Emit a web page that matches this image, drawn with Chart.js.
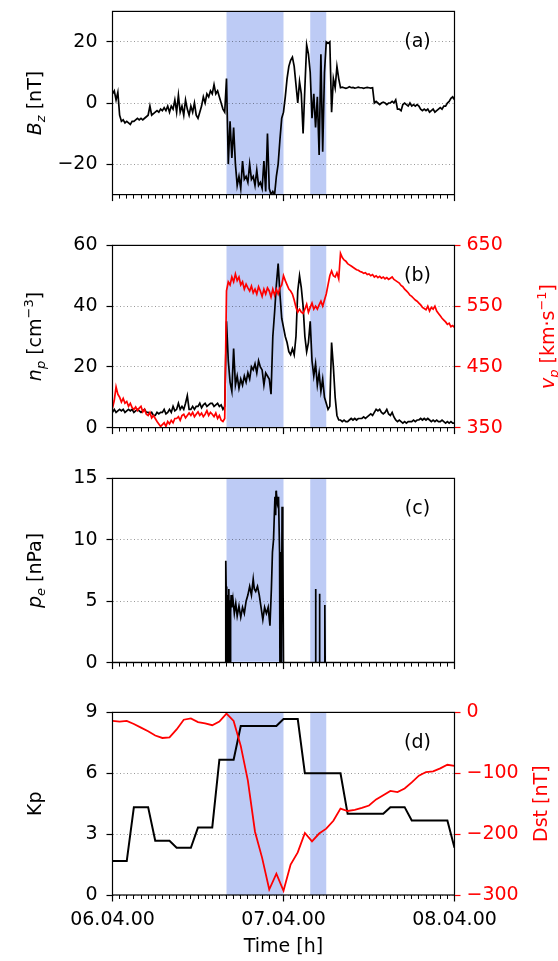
<!DOCTYPE html>
<html>
<head>
<meta charset="utf-8">
<title>Bz, np/vp, pe, Kp/Dst</title>
<script src="https://cdn.jsdelivr.net/npm/chart.js@4.4.1/dist/chart.umd.min.js"></script>
<style>
  body { margin: 0; background: #fff; width: 558px; height: 961px; position: relative; overflow: hidden; }
  canvas { position: absolute; left: 0; }
</style>
</head>
<body>
<canvas id="chartA" width="558" height="224" style="top:-9px"></canvas>
<canvas id="chartB" width="558" height="223" style="top:225px"></canvas>
<canvas id="chartC" width="558" height="225" style="top:458px"></canvas>
<canvas id="chartD" width="558" height="269" style="top:692px"></canvas>
<script>
// time axis (hours from 06.04 00:00)
const timeTicks = [0, 24, 48];
const timeTickLabels = ["06.04.00", "07.04.00", "08.04.00"];
const shadeStart = [16, 27.75];
const shadeEnd = [24, 30];

// Bz, np, vp sampled every 15 min
const sampleStep = 0.25;
const bzValues = [
  3, 4, 1, 3.5,  -4, -6, -5.5, -6.5,  -6, -6.5, -7, -6,  -6, -5.5, -5, -5.5,
  -5, -5.5, -5, -4.5,  -4, -1, -4, -3.5,  -3, -2.5, -3, -2,  -2.5, -1.5, -2.5, -1,
  -3, -1, -2, 1,  -3, 2.5, -3, -1,  -4, 1, -2, -4,  -1, -3, 0, -4,
  -5, -3, -1, 2,  0, 3, 2, 4,  3, 6, 3, 4,  2, 0, -2, -3,
  8, -20, -6, -18,  -8, -20, -27, -24,  -28, -19, -25, -24,  -26, -20, -25, -24,
  -27, -22, -27, -26,  -28, -19, -29, -10,  -28, -30, -29, -30,  -24, -20, -12, -5,
  -3, 2, 8, 12,  14, 15, 12, 6,  0, 7, 3, -10,  5, 19, 16, 10,
  -5, 3, -8, 2,  -17, 16, -16, 10,  20, 19.5, 20, -3,  8, 5, 12, 8,
  5, 5.2, 5, 4.8,  5, 5.3, 5, 5.1,  4.9, 5, 5.2, 5,  5, 4.8, 5, 5.1,
  5, 4.9, 5, 0,  0.5, 0, -0.5, 0,  0.3, 0, -0.5, 0,  0, 0.5, 0, 1,
  -2, -2, -2.5, -0.5,  0, -0.5, -1, 0,  -1, -0.5, -1, -0.5,  -1, -2, -2.5, -2,
  -2.5, -2, -3, -2.5,  -2, -3, -2.5, -2,  -1.5, -2, -1, -1,  0, 0.5, 1.5, 2,
  1
];
const npValues = [
  5, 6, 5, 5.5,  6, 5.5, 6, 5,  5.5, 6, 5.5, 6,  5, 5.5, 6, 5.5,
  5, 5.5, 6, 5,  5, 4.5, 5, 4,  4, 5, 4.5, 5,  5, 6, 4.5, 5,
  6, 5, 7, 5.5,  6, 8, 6, 7,  6, 8, 10.5, 6,  6, 7, 6, 7,
  7, 8, 6.5, 7.5,  8, 7, 7.5, 8,  8, 7, 7.5, 8,  7, 7.5, 6, 7,
  35, 22, 15, 12,  26, 14, 17, 13,  16, 14, 17, 15,  18, 16, 20, 19,
  21, 18, 22, 20,  19, 14, 18, 17,  16, 11, 30, 38,  47, 54, 44, 36,
  33, 30, 28, 25,  24, 26, 24, 30,  45, 50, 46, 40,  30, 25, 28, 35,
  22, 17, 21, 14,  18, 12, 16, 10,  8, 6, 7, 28,  20, 10, 4, 2.5,
  2.5, 2, 2.5, 2,  2, 2.5, 3, 2.5,  3, 2.5, 3, 3,  3, 3.5, 3, 3.5,
  4, 4.5, 4, 5,  6, 5.5, 6, 5,  4.5, 5, 6, 4.5,  4, 5, 3.5, 2.5,
  2, 2.5, 2, 1.5,  2, 1.5, 2, 2,  2, 2.5, 2, 2.5,  2.5, 3, 2.5, 3,
  2.5, 3, 2.5, 2,  2.5, 2, 2.5, 2,  2, 2.5, 2, 1.5,  2, 1.5, 2, 1.5,
  1.5
];
const vpValues = [
  382, 395, 417, 405,  400, 392, 398, 390,  393, 385, 390, 383,  380, 384, 378, 382,
  385, 376, 380, 372,  370, 375, 366, 370,  365, 360, 356, 352,  355, 358, 352, 360,
  356, 362, 358, 365,  365, 368, 362, 370,  372, 366, 370, 374,  370, 375, 368, 372,
  376, 370, 374, 368,  372, 378, 370, 375,  372, 368, 374, 365,  370, 362, 360, 365,
  575, 590, 585, 598,  590, 603, 592, 598,  585, 590, 578, 586,  580, 575, 583, 572,
  578, 570, 582, 575,  566, 578, 570, 580,  575, 565, 578, 568,  578, 570, 580, 585,
  600, 592, 585, 578,  575, 570, 560, 548,  540, 545, 540, 538,  545, 553, 540, 548,
  555, 545, 550, 545,  552, 558, 550, 560,  570, 585, 600, 608,  600, 598, 605, 595,
  637, 630, 626, 624,  620, 618, 616, 614,  612, 610, 609, 607,  606, 604, 605, 602,
  603, 600, 602, 598,  600, 597, 599, 596,  598, 595, 597, 594,  596, 598, 594, 592,
  590, 588, 584, 582,  578, 575, 572, 568,  566, 563, 560, 558,  555, 552, 548, 546,
  544, 550, 542, 548,  545, 550, 542, 538,  534, 530, 527, 524,  520, 522, 516, 518,
  515
];

// electron pressure, irregular times (h)
const peHours = [
  0, 15.85, 15.9, 15.95, 16.0, 16.05, 16.1, 16.15, 16.2, 16.25, 16.3, 16.35, 16.4, 16.45, 16.5, 16.55,
  16.6, 16.65, 16.75,
  16.9, 17.1, 17.3, 17.5, 17.75, 18.0, 18.25, 18.5, 18.75, 19.0, 19.25, 19.5, 19.75, 19.9,
  20.1, 20.35, 20.6, 20.85, 21.1, 21.35, 21.6, 21.85, 22.1, 22.3, 22.45, 22.6, 22.8, 22.9,
  22.95, 23.0, 23.15, 23.3, 23.45, 23.5, 23.6, 23.7, 23.8, 23.9, 24.0,
  28.45, 28.5, 28.55, 29.0, 29.05, 29.1, 29.75, 29.8, 29.85, 48
];
const peValues = [
  0, 0, 8.3, 6.2, 0, 6, 0, 5, 5.5, 0, 4.5, 6, 0, 5, 5, 0,
  4, 5.5, 4.5,
  5.2, 4, 4.8, 3.8, 4.6, 3.7, 4.5, 4, 5, 5.5, 6.2, 5.5, 6.8, 6,
  5.8, 6.2, 5.5, 4.5, 3.5, 4.5, 4, 4.5, 3, 6, 9, 10, 13.5, 12,
  14, 13.8, 13, 13.5, 9, 0, 9, 0, 12.7, 10, 0,
  0, 6, 0, 0, 5.6, 0, 0, 4.7, 0, 0
];

// hourly Kp and Dst
const kpValues = [
  1.67, 1.67, 1.67, 4.33, 4.33, 4.33, 2.67, 2.67, 2.67, 2.33, 2.33, 2.33,
  3.33, 3.33, 3.33, 6.67, 6.67, 6.67, 8.33, 8.33, 8.33, 8.33, 8.33, 8.33,
  8.67, 8.67, 8.67, 6, 6, 6, 6, 6, 6, 4, 4, 4,
  4, 4, 4, 4.33, 4.33, 4.33, 3.67, 3.67, 3.67, 3.67, 3.67, 3.67,
  2.33
];
const dstValues = [
  -14, -15, -14, -19, -25, -31, -38, -42, -41, -28, -12, -10,
  -16, -18, -21, -15, -2, -14, -55, -112, -196, -239, -291, -265,
  -293, -250, -230, -198, -212, -199, -191, -178, -158, -162, -160, -157,
  -153, -143, -136, -129, -131, -125, -115, -104, -98, -97, -92, -86,
  -88
];

const bzTicks = [-20, 0, 20];
const npTicks = [0, 20, 40, 60];
const vpTicks = [350, 450, 550, 650];
const peTicks = [0, 5, 10, 15];
const kpTicks = [0, 3, 6, 9];
const dstTicks = [-300, -200, -100, 0];

// layout
const plotLeft = 112.5;
const plotRight = 454.5;
const FONT = "'DejaVu Sans', sans-serif";
Chart.defaults.font.family = FONT;
Chart.defaults.font.size = 19;
Chart.defaults.color = "#000";

function series(values, dt) {
  return values.map((v, i) => ({ x: i * dt, y: v }));
}

function timeAxes(withLabels) {
  return {
    xMinor: {
      type: "linear", position: "bottom", min: 0, max: 48, weight: 0,
      ticks: { stepSize: 1, display: false, autoSkip: false },
      grid: { drawOnChartArea: false, tickLength: 4, tickColor: "#000", tickWidth: 1 },
      border: { display: false },
      afterFit: (s) => { s.height = 0; },
    },
    x: {
      type: "linear", position: "bottom", min: 0, max: 48, weight: 1,
      afterBuildTicks: (s) => { s.ticks = timeTicks.map((v) => ({ value: v })); },
      ticks: { display: withLabels, autoSkip: false, maxRotation: 0, padding: 7, callback: (v, i) => timeTickLabels[i] },
      grid: { drawOnChartArea: false, tickLength: 6.5, tickColor: "#000", tickWidth: 1.2 },
      border: { display: false },
      title: { display: withLabels, text: "Time [h]", padding: { top: 0, bottom: 3 } },
      afterFit: (s) => { s.height = withLabels ? 66 : 20; },
    },
  };
}

function valueAxis(position, min, max, tickValues, color) {
  const left = position === "left";
  return {
    type: "linear", position, min, max,
    afterBuildTicks: (s) => { s.ticks = tickValues.map((v) => ({ value: v })); },
    afterFit: (s) => { s.width = left ? plotLeft : 558 - plotRight; },
    ticks: { color, padding: left ? 9 : 6, callback: (v) => String(v).replace("-", "\u2212") },
    grid: {
      drawOnChartArea: left, color: "rgba(0,0,0,0.4)", lineWidth: 1,
      tickLength: 6, tickColor: color, tickWidth: 1.2, tickBorderDash: [],
    },
    border: { display: false, dash: [1, 2.5] },
  };
}

function drawLabel(ctx, parts, cx, cy, color) {
  ctx.save();
  ctx.translate(cx, cy);
  ctx.rotate(-Math.PI / 2);
  ctx.fillStyle = color;
  ctx.textAlign = "left";
  ctx.textBaseline = "alphabetic";
  const fontOf = (p) => (p.it ? "italic " : "") + (p.sub || p.sup ? 13 : 19) + "px " + FONT;
  let total = 0;
  parts.forEach((p) => { ctx.font = fontOf(p); total += ctx.measureText(p.t).width; });
  let x = -total / 2;
  parts.forEach((p) => {
    ctx.font = fontOf(p);
    const dy = p.sub ? 4 : p.sup ? -8 : 0;
    ctx.fillText(p.t, x, 7 + dy);
    x += ctx.measureText(p.t).width;
  });
  ctx.restore();
}

function decor(tag, leftLabel, rightLabel, rightX) {
  return {
    id: "decor",
    beforeDraw(chart) {
      const { ctx, chartArea: a, scales } = chart;
      ctx.save();
      ctx.fillStyle = "rgba(65,105,225,0.35)";
      shadeStart.forEach((s, i) => {
        const x0 = scales.x.getPixelForValue(s);
        const x1 = scales.x.getPixelForValue(shadeEnd[i]);
        ctx.fillRect(x0, a.top, x1 - x0, a.bottom - a.top);
      });
      ctx.restore();
    },
    afterDraw(chart) {
      const { ctx, chartArea: a } = chart;
      ctx.save();
      ctx.strokeStyle = "#000";
      ctx.lineWidth = 1.2;
      ctx.strokeRect(a.left, a.top, a.right - a.left, a.bottom - a.top);
      ctx.fillStyle = "#000";
      ctx.font = "19px " + FONT;
      ctx.textAlign = "center";
      ctx.textBaseline = "middle";
      ctx.fillText(tag, a.right - 37, a.top + 31);
      ctx.restore();
      const cy = (a.top + a.bottom) / 2;
      drawLabel(ctx, leftLabel, 34, cy, "#000");
      if (rightLabel) drawLabel(ctx, rightLabel, rightX, cy, "#ff0000");
    },
  };
}

function baseOptions(scales, padRight) {
  return {
    responsive: false,
    animation: false,
    events: [],
    layout: { padding: { top: 14, left: 0, right: padRight, bottom: 0 } },
    plugins: { legend: { display: false }, tooltip: { enabled: false } },
    elements: { point: { radius: 0 }, line: { tension: 0 } },
    scales,
  };
}

// (a) Bz
new Chart(document.getElementById("chartA"), {
  type: "line",
  data: {
    datasets: [{ data: series(bzValues, sampleStep), borderColor: "#000", borderWidth: 1.7, xAxisID: "x", yAxisID: "y" }],
  },
  options: baseOptions({ ...timeAxes(false), y: valueAxis("left", -30, 30, bzTicks, "#000") }, 558 - plotRight),
  plugins: [decor("(a)", [{ t: "B", it: true }, { t: "z", it: true, sub: true }, { t: " [nT]" }])],
});

// (b) np and vp
new Chart(document.getElementById("chartB"), {
  type: "line",
  data: {
    datasets: [
      { data: series(vpValues, sampleStep), borderColor: "#ff0000", borderWidth: 1.7, xAxisID: "x", yAxisID: "y2", order: 1 },
      { data: series(npValues, sampleStep), borderColor: "#000", borderWidth: 1.7, xAxisID: "x", yAxisID: "y", order: 2 },
    ],
  },
  options: baseOptions({
    ...timeAxes(false),
    y: valueAxis("left", 0, 60, npTicks, "#000"),
    y2: valueAxis("right", 350, 650, vpTicks, "#ff0000"),
  }, 0),
  plugins: [decor("(b)",
    [{ t: "n", it: true }, { t: "p", it: true, sub: true }, { t: " [cm" }, { t: "\u22123", sup: true }, { t: "]" }],
    [{ t: "v", it: true }, { t: "p", it: true, sub: true }, { t: " [km\u00b7s" }, { t: "\u22121", sup: true }, { t: "]" }],
    547)],
});

// (c) pe
new Chart(document.getElementById("chartC"), {
  type: "line",
  data: {
    datasets: [{ data: peHours.map((h, i) => ({ x: h, y: peValues[i] })), borderColor: "#000", borderWidth: 1.7, xAxisID: "x", yAxisID: "y" }],
  },
  options: baseOptions({ ...timeAxes(false), y: valueAxis("left", 0, 15, peTicks, "#000") }, 558 - plotRight),
  plugins: [decor("(c)", [{ t: "p", it: true }, { t: "e", it: true, sub: true }, { t: " [nPa]" }])],
});

// (d) Kp and Dst
new Chart(document.getElementById("chartD"), {
  type: "line",
  data: {
    datasets: [
      { data: series(dstValues, 1), borderColor: "#ff0000", borderWidth: 1.8, xAxisID: "x", yAxisID: "y2", order: 1 },
      { data: series(kpValues, 1), borderColor: "#000", borderWidth: 2, xAxisID: "x", yAxisID: "y", order: 2 },
    ],
  },
  options: baseOptions({
    ...timeAxes(true),
    y: valueAxis("left", 0, 9, kpTicks, "#000"),
    y2: valueAxis("right", -300, 0, dstTicks, "#ff0000"),
  }, 0),
  plugins: [decor("(d)", [{ t: "Kp" }], [{ t: "Dst [nT]" }], 540)],
});
</script>
</body>
</html>
